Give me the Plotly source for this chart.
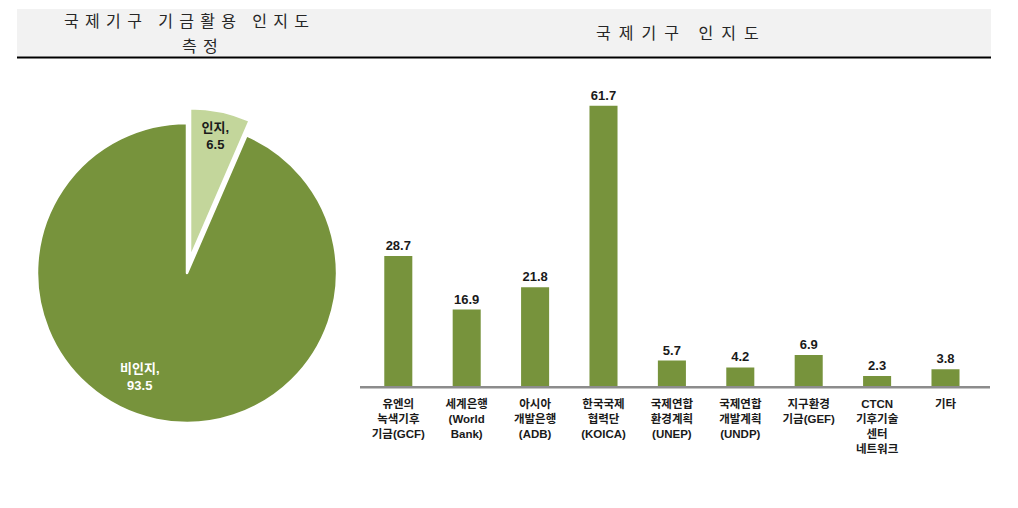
import plotly.graph_objects as go

# ---- data ----
pie_labels = ["인지", "비인지"]
pie_values = [6.5, 93.5]

bar_categories = [
    "유엔의<br>녹색기후<br>기금(GCF)",
    "세계은행<br>(World<br>Bank)",
    "아시아<br>개발은행<br>(ADB)",
    "한국국제<br>협력단<br>(KOICA)",
    "국제연합<br>환경계획<br>(UNEP)",
    "국제연합<br>개발계획<br>(UNDP)",
    "지구환경<br>기금(GEF)",
    "CTCN<br>기후기술<br>센터<br>네트워크",
    "기타",
]
bar_values = [28.7, 16.9, 21.8, 61.7, 5.7, 4.2, 6.9, 2.3, 3.8]

left_title_lines = ["국제기구 기금활용 인지도", "측정"]
right_title = "국제기구 인지도"

# page body has an 8px margin, so the figure is 16px smaller and offset by 8px
OFF = 8
W, H = 1018 - 2 * OFF, 508 - 2 * OFF
FONT = "Liberation Sans, Noto Sans CJK KR, sans-serif"
TFONT = "Noto Sans CJK KR"
GREEN = "#77933C"
LIGHT = "#C3D69B"


def px_x(x):
    return (x - OFF) / W


def px_y(y):
    return (H - (y - OFF)) / H


def spaced(s, sep):
    return sep.join(list(s))


fig = go.Figure()

# ---- pie ----
pc_x, pc_y, pr = 187, 273, 150
pull = 0.1
half = pr * (1 + pull)
fig.add_trace(go.Pie(
    labels=pie_labels,
    values=pie_values,
    sort=False,
    direction="clockwise",
    rotation=0,
    pull=[pull, 0],
    marker=dict(colors=[LIGHT, GREEN], line=dict(color="white", width=2.5)),
    texttemplate=["<b>%{label},<br>%{value}</b>", ""],
    textposition="inside",
    insidetextorientation="horizontal",
    textfont=dict(family=FONT, size=13, color="#1a1a1a"),
    hoverinfo="label+value",
    showlegend=False,
    domain=dict(x=[px_x(pc_x - half), px_x(pc_x + half)],
                y=[px_y(pc_y + half), px_y(pc_y - half)]),
))

big_label = f"<b>{pie_labels[1]},<br>{pie_values[1]}</b>"

# ---- bars ----
fig.add_trace(go.Bar(
    x=bar_categories,
    y=bar_values,
    marker=dict(color=GREEN, line=dict(width=0)),
    width=0.41,
    text=[f"<b>{v}</b>" for v in bar_values],
    textposition="outside",
    cliponaxis=False,
    textfont=dict(family=FONT, size=13, color="#1a1a1a"),
    xaxis="x", yaxis="y",
    showlegend=False,
))

axis_y = 386.5
scale = 4.55
LSEP = "\u2004\u200a"
RSEP = "\u2002"
TSIZE = 16

fig.update_layout(
    width=W, height=H,
    margin=dict(l=0, r=0, t=0, b=0),
    paper_bgcolor="white",
    plot_bgcolor="rgba(0,0,0,0)",
    font=dict(family=FONT),
    xaxis=dict(
        domain=[px_x(364.1), px_x(979.7)],
        anchor="y",
        showline=False,
        showgrid=False, zeroline=False, ticks="",
        ticklabelstandoff=9,
        tickfont=dict(family=FONT, size=11.5, color="#1a1a1a", weight="bold"),
        fixedrange=True,
    ),
    yaxis=dict(
        domain=[px_y(axis_y), px_y(axis_y - 70 * scale)],
        range=[0, 70],
        visible=False,
        showgrid=False, zeroline=False,
    ),
    shapes=[
        dict(type="rect", xref="paper", yref="paper",
             x0=px_x(17), x1=px_x(991), y0=px_y(56.5), y1=px_y(9),
             fillcolor="#F2F2F2", line=dict(width=0), layer="below"),
        dict(type="line", xref="paper", yref="paper",
             x0=px_x(17), x1=px_x(991), y0=px_y(57.5), y1=px_y(57.5),
             line=dict(color="black", width=2)),
        dict(type="line", xref="paper", yref="paper",
             x0=px_x(360), x1=px_x(990), y0=px_y(387.3), y1=px_y(387.3),
             line=dict(color="#8C8C8C", width=2.5), layer="above"),
    ],
    annotations=[
        dict(text=spaced(left_title_lines[0], LSEP), x=px_x(186), y=px_y(20.5), xref="paper", yref="paper",
             showarrow=False, font=dict(family=TFONT, size=TSIZE, color="#262626"),
             xanchor="center", yanchor="middle"),
        dict(text=spaced(left_title_lines[1], LSEP), x=px_x(200), y=px_y(44.5), xref="paper", yref="paper",
             showarrow=False, font=dict(family=TFONT, size=TSIZE, color="#262626"),
             xanchor="center", yanchor="middle"),
        dict(text=spaced(right_title, RSEP), x=px_x(677), y=px_y(32), xref="paper", yref="paper",
             showarrow=False, font=dict(family=TFONT, size=TSIZE, color="#262626"),
             xanchor="center", yanchor="middle"),
        dict(text=big_label, x=px_x(140), y=px_y(377), xref="paper", yref="paper",
             showarrow=False, font=dict(family=FONT, size=13, color="white"),
             xanchor="center", yanchor="middle"),
    ],
)

fig.write_html("out.html")
